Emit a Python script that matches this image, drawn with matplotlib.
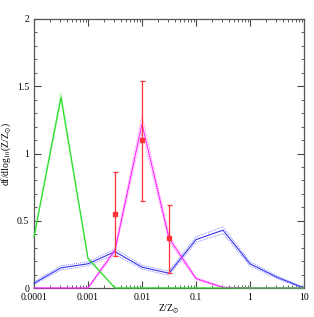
import numpy as np
import matplotlib
matplotlib.use("Agg")
import matplotlib.pyplot as plt
from matplotlib.ticker import FixedLocator, MultipleLocator, LogLocator, NullFormatter

# Data
z = [1e-4, 3.16e-4, 1e-3, 3.16e-3, 1e-2, 3.16e-2, 1e-1, 3.16e-1, 1, 3.16, 10]
green = [0.38, 1.42, 0.22, 0.0, 0.0, 0.0, 0.0, 0.0, 0.0, 0.0, 0.0]
green_err = [0.01, 0.03, 0.01, 0.0, 0.0, 0.0, 0.0, 0.0, 0.0, 0.0, 0.0]
magenta = [0.0, 0.0, 0.0, 0.28, 1.22, 0.37, 0.07, 0.005, 0.0, 0.0, 0.0]
magenta_err = [0.0, 0.0, 0.0, 0.02, 0.06, 0.025, 0.01, 0.003, 0.0, 0.0, 0.0]
blue = [0.035, 0.15, 0.18, 0.27, 0.155, 0.11, 0.36, 0.43, 0.18, 0.08, 0.0]
blue_err = [0.01, 0.015, 0.015, 0.02, 0.015, 0.015, 0.02, 0.025, 0.015, 0.01, 0.005]

obs_z = [3.16e-3, 1e-2, 3.16e-2]
obs_val = [0.55, 1.10, 0.37]
obs_lo = [0.24, 0.65, 0.11]
obs_hi = [0.86, 1.54, 0.62]

xticks = [1e-4, 1e-3, 1e-2, 1e-1, 1, 10]
xticklabels = ["0.0001", "0.001", "0.01", "0.1", "1", "10"]
yticks = [0, 0.5, 1, 1.5, 2]
yticklabels = ["0", "0.5", "1", "1.5", "2"]

plt.rcParams['font.family'] = ['Liberation Serif', 'DejaVu Serif']
plt.rcParams['mathtext.fontset'] = 'stix'

fig = plt.figure(figsize=(3.14, 3.17), dpi=100)
ax = fig.add_axes([34/314, 29/317, 270/314, 269/317])

z = np.array(z)
def draw(vals, err, col, light):
    vals = np.array(vals); err = np.array(err)
    ax.plot(z, vals + err, color=light, lw=0.7, ls=(0, (1, 1)), clip_on=False)
    ax.plot(z, vals - err, color=light, lw=0.7, ls=(0, (1, 1)), clip_on=False)
    ax.plot(z, vals, color=col, lw=0.8, clip_on=False, zorder=3)

draw(blue, blue_err, '#3333ee', '#8888ff')
draw(magenta, magenta_err, '#ff22ff', '#ff88ff')
draw(green, green_err, '#22dd22', '#88ee88')

obs_val = np.array(obs_val)
yerr = [obs_val - np.array(obs_lo), np.array(obs_hi) - obs_val]
ax.errorbar(obs_z, obs_val, yerr=yerr, fmt='s', color='#ff3333', ms=2.6,
            elinewidth=0.9, capsize=1.8, capthick=0.9, zorder=5)

ax.set_xscale('log')
ax.set_xlim(1e-4, 10)
ax.set_ylim(0, 2)
ax.xaxis.set_major_locator(FixedLocator(xticks))
ax.set_xticklabels(xticklabels)
ax.xaxis.set_minor_locator(LogLocator(base=10, subs=np.arange(2, 10)))
ax.xaxis.set_minor_formatter(NullFormatter())
ax.set_yticks(yticks)
ax.set_yticklabels(yticklabels)
ax.yaxis.set_minor_locator(MultipleLocator(0.1))
ax.tick_params(which='both', direction='in', top=True, right=True, labelsize=7, color='#444444')
ax.tick_params(which='major', length=5, width=0.8)
ax.tick_params(which='minor', length=2.5, width=0.6)
for s in ax.spines.values():
    s.set_color('#555555'); s.set_linewidth(0.9)

ax.set_xlabel(r'Z/Z$_{\odot}$', fontsize=7, labelpad=1)
ax.set_ylabel(r'df/dlog$_{10}$(Z/Z$_{\odot}$)', fontsize=7, labelpad=3)

fig.savefig('out.png', dpi=100)
